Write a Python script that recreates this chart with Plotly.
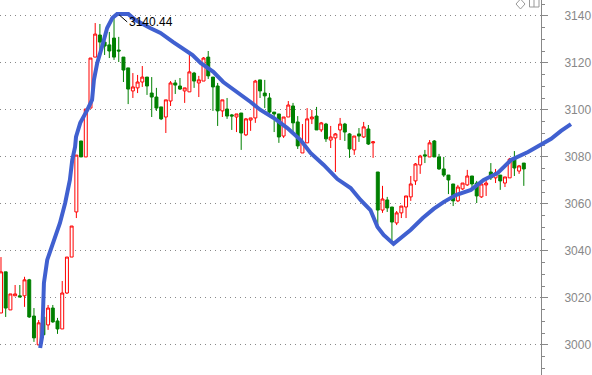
import plotly.graph_objects as go

opens = [3013.6,3031.1,3014.9,3020.9,3020.9,3020.9,3027.7,3012.3,3000.0,3011.9,3008.5,3015.7,3010.2,3006.8,3022.1,3037.4,
3056.6,3086.8,3080.0,3100.8,3122.5,3131.9,3128.9,3127.7,3130.6,3125.5,3122.5,3117.9,3108.1,3109.4,3111.9,3114.0,
3107.2,3105.5,3101.3,3097.0,3103.8,3111.5,3110.2,3108.1,3107.7,3115.7,3111.5,3112.3,3122.5,3114.0,3110.2,3099.6,
3100.4,3097.9,3097.0,3098.7,3089.4,3095.7,3096.6,3112.8,3107.2,3105.1,3099.1,3098.3,3088.9,3097.0,3101.7,3094.9,
3081.7,3086.0,3096.2,3097.4,3091.5,3094.0,3087.2,3088.1,3091.5,3094.0,3089.8,3083.0,3089.8,3088.5,3091.9,3086.0,
3073.6,3057.4,3061.7,3058.7,3051.9,3056.2,3058.7,3063.0,3069.8,3076.6,3080.9,3080.0,3086.8,3080.0,3074.9,3072.3,
3068.5,3061.3,3066.4,3068.1,3071.9,3068.9,3063.0,3068.1,3073.6,3071.1,3072.3,3068.9,3071.1,3079.6,3074.0,3077.4]
closes = [3031.1,3015.7,3021.7,3021.7,3020.4,3027.7,3011.9,3003.0,3009.4,3004.3,3015.7,3009.8,3006.8,3022.1,3037.4,3050.6,
3080.8,3080.0,3100.4,3122.1,3132.3,3128.9,3127.2,3125.1,3122.5,3125.1,3117.0,3108.9,3109.8,3111.9,3114.0,3110.2,
3105.5,3100.8,3096.2,3104.3,3111.5,3110.6,3108.9,3109.4,3116.2,3112.3,3112.8,3122.1,3114.5,3109.8,3099.6,3104.3,
3097.4,3097.4,3098.3,3090.2,3096.2,3096.6,3112.3,3108.1,3106.0,3099.1,3098.3,3088.5,3097.0,3102.1,3094.5,3084.7,
3086.4,3096.2,3097.0,3091.5,3094.5,3087.7,3088.5,3089.8,3094.0,3090.6,3083.4,3088.9,3088.9,3092.8,3085.5,3086.4,
3057.4,3062.1,3058.3,3052.3,3056.2,3059.1,3063.4,3068.5,3077.0,3080.4,3080.4,3086.0,3080.0,3074.9,3072.3,3070.2,
3061.3,3067.2,3068.9,3071.9,3068.5,3063.4,3068.5,3068.9,3071.1,3073.2,3069.8,3071.5,3079.1,3075.3,3076.2,3074.9]
highs = [3037.4,3031.1,3021.7,3025.5,3025.5,3029.0,3028.1,3015.7,3010.6,3011.9,3017.0,3017.0,3011.5,3027.2,3037.4,3050.6,
3080.8,3086.8,3100.4,3122.1,3137.0,3136.6,3132.8,3133.2,3139.1,3131.1,3122.5,3117.9,3115.7,3114.9,3118.7,3114.0,
3114.0,3109.4,3101.3,3104.3,3112.3,3112.8,3113.6,3109.4,3124.2,3116.2,3114.5,3122.5,3125.1,3114.0,3111.5,3104.3,
3105.1,3098.3,3098.3,3098.7,3096.6,3096.6,3112.8,3112.8,3112.8,3107.2,3099.1,3098.3,3097.0,3103.8,3103.0,3097.4,
3094.0,3100.8,3100.0,3101.3,3094.9,3094.5,3093.2,3090.2,3096.6,3094.5,3090.2,3088.9,3092.3,3094.9,3093.6,3086.8,
3073.6,3067.7,3063.0,3058.7,3057.0,3059.1,3063.4,3071.9,3077.4,3080.9,3083.0,3087.2,3087.2,3081.3,3080.0,3072.3,
3068.5,3068.1,3068.9,3074.5,3071.9,3069.8,3069.8,3071.5,3077.4,3074.9,3072.3,3071.5,3079.6,3082.5,3076.6,3077.4]
lows = [3013.6,3011.9,3014.9,3020.9,3020.4,3016.2,3011.5,3001.3,3000.0,3003.4,3006.4,3009.4,3004.7,3006.8,3021.7,3037.4,
3054.0,3080.0,3080.0,3100.8,3122.5,3125.5,3123.4,3122.1,3121.3,3120.4,3111.9,3102.5,3105.1,3107.2,3109.8,3106.4,
3097.0,3099.6,3095.7,3090.2,3101.7,3106.8,3108.5,3103.0,3107.7,3109.4,3105.5,3112.3,3113.2,3099.6,3093.2,3097.0,
3096.2,3091.5,3090.6,3083.0,3088.9,3091.1,3094.5,3105.1,3100.8,3097.4,3090.6,3086.0,3088.1,3097.0,3089.4,3083.4,
3081.7,3086.0,3094.0,3091.5,3090.6,3086.4,3083.8,3073.6,3087.2,3086.8,3079.6,3080.9,3086.4,3088.1,3085.1,3079.6,
3051.0,3056.2,3056.6,3043.8,3051.0,3054.0,3054.0,3061.3,3068.1,3072.8,3077.4,3080.0,3080.0,3074.5,3071.5,3064.2,
3059.1,3060.8,3066.0,3067.7,3067.2,3060.4,3062.6,3063.4,3070.2,3068.9,3066.0,3067.2,3071.1,3071.9,3072.8,3067.7]
sessions = list(range(len(opens)))

trend_x = [8.3,8.7,8.9,9.1,9.8,11.0,12.5,13.6,14.6,15.1,15.7,15.9,16.8,18.3,19.3,19.7,20.4,21.4,22.5,23.6,24.6,27.0,28.5,31.6,33.8,36.5,38.0,40.6,42.3,45.0,47.1,50.1,52.9,55.0,57.8,60.7,63.5,65.6,68.4,71.3,74.1,76.2,78.3,79.8,81.1,83.2,86.8,89.4,91.7,93.8,96.4,99.6,102.3,105.3,108.1,111.7,114.4,116.6,118.7,120.8]
trend_y = [2998.7,3003.4,3013.6,3026.4,3036.2,3043.4,3051.9,3060.4,3070.2,3078.7,3084.3,3088.5,3094.5,3100.0,3104.3,3112.8,3120.0,3126.8,3134.9,3139.1,3140.8,3140.8,3138.3,3134.9,3132.8,3128.9,3126.8,3123.4,3120.0,3116.2,3111.9,3107.7,3103.4,3100.0,3096.6,3092.3,3087.2,3081.7,3076.6,3070.6,3066.8,3061.7,3057.4,3050.2,3046.8,3043.0,3048.9,3054.0,3057.9,3060.8,3063.8,3066.0,3070.2,3073.2,3078.7,3082.1,3085.1,3087.7,3091.1,3094.0]

W, H = 592, 375
PLOT_W = 541
GRAY = "#888888"
Y_RANGE = [2987.2, 3146.8]
X_MAIN = [-0.21, 114.65]
X_FULL = [-0.21, 125.26]

fig = go.Figure()
fig.add_trace(go.Candlestick(
    x=sessions, open=opens, high=highs, low=lows, close=closes,
    increasing=dict(line=dict(color="#ff0000", width=1), fillcolor="#ffffff"),
    decreasing=dict(line=dict(color="#008000", width=1), fillcolor="#008000"),
    whiskerwidth=0, hoverinfo="skip", showlegend=False))
fig.add_trace(go.Scatter(
    x=trend_x, y=trend_y, mode="lines", xaxis="x2", yaxis="y2",
    line=dict(color="#4060D0", width=4),
    hoverinfo="skip", showlegend=False))

def px(x): return x / W
def py(y): return 1 - y / H
icon = dict(type="path", xref="paper", yref="paper", line=dict(color="#999999", width=1))
diamond = f"M{px(516)},{py(4)} L{px(520.5)},{py(-1)} L{px(525)},{py(4)} L{px(520.5)},{py(9)} Z"
book = f"M{px(529.5)},{py(0)} L{px(529.5)},{py(7)} L{px(539)},{py(7)} L{px(539)},{py(0)} M{px(534)},{py(0)} L{px(534)},{py(7)}"

fig.update_layout(
    width=W, height=H, autosize=False,
    margin=dict(l=0, r=0, t=0, b=0),
    paper_bgcolor="white", plot_bgcolor="rgba(0,0,0,0)", boxgap=0.1,
    xaxis=dict(domain=[0, PLOT_W / W], range=X_MAIN, showgrid=False, showticklabels=False, ticks="",
               zeroline=False, rangeslider=dict(visible=False), fixedrange=True),
    yaxis=dict(domain=[0, 1], range=Y_RANGE, side="right", tickmode="array",
               tickvals=list(range(3000, 3141, 20)), ticktext=[str(v) for v in range(3000, 3141, 20)],
               ticks="outside", ticklen=6, tickcolor=GRAY, tickwidth=1,
               showline=True, linecolor=GRAY, linewidth=1, zeroline=False,
               showgrid=True, gridcolor=GRAY, griddash="1px,4px", gridwidth=1,
               tickfont=dict(family="Liberation Sans", size=12, color=GRAY),
               ticklabelstandoff=14,
               minor=dict(dtick=5, ticks="outside", ticklen=3, tickcolor=GRAY, showgrid=False),
               fixedrange=True),
    xaxis2=dict(domain=[0, 1], range=X_FULL, anchor="y2", visible=False, fixedrange=True),
    yaxis2=dict(domain=[0, 1], range=Y_RANGE, anchor="x2", visible=False, fixedrange=True),
    shapes=[dict(icon, path=diamond), dict(icon, path=book)],
    annotations=[dict(x=25.1, y=3140.44, text="3140.44", showarrow=True, arrowhead=0, arrowwidth=1,
                      arrowcolor="#000000", ax=8, ay=7, xanchor="left", yanchor="middle", standoff=0,
                      font=dict(family="Liberation Sans", size=12, color="#000000"))],
)
fig.write_html("out.html", config={"displayModeBar": False},
               post_script="document.body.style.margin='0';document.documentElement.style.overflow='hidden';")
